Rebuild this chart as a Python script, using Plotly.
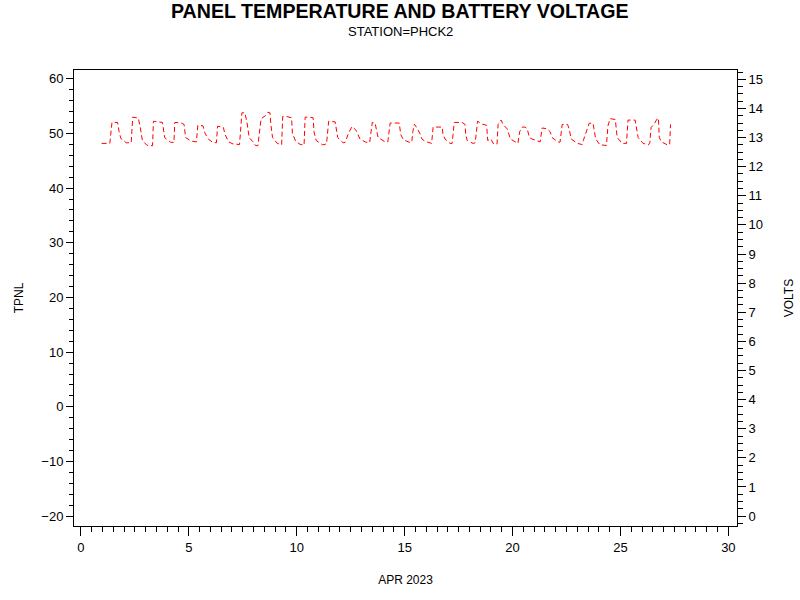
import plotly.graph_objects as go

# =========================
# DATA
# =========================

# day of APR 2023 and battery voltage
day = [
    0.96, 1.34, 1.44, 1.70, 1.77, 1.85, 2.10, 2.33,
    2.40, 2.66, 2.75, 2.85, 3.05, 3.32,
    3.36, 3.78, 3.88, 4.15, 4.31,
    4.35, 4.65, 4.78, 4.85, 5.10, 5.35,
    5.42, 5.66, 5.75, 5.90, 6.10, 6.28,
    6.33, 6.60, 6.68, 6.85, 7.05, 7.35,
    7.46, 7.60, 7.70, 7.80, 7.93, 8.10, 8.20,
    8.35, 8.55, 8.65, 8.76, 8.80, 8.88, 9.10, 9.30,
    9.35, 9.50, 9.76, 9.80, 9.95, 10.15, 10.34,
    10.39, 10.60, 10.76, 10.80, 10.90, 11.20, 11.38,
    11.48, 11.78, 11.90, 12.15, 12.25,
    12.40, 12.56, 12.75, 12.93, 13.20, 13.38,
    13.50, 13.63, 13.77, 14.10, 14.22,
    14.33, 14.75, 14.82, 14.95, 15.25, 15.33,
    15.38, 15.45, 15.58, 15.70, 15.80, 15.95, 16.25,
    16.32, 16.74, 16.78, 16.87, 17.10, 17.20,
    17.30, 17.66, 17.80, 17.83, 17.90, 18.17, 18.27,
    18.38, 18.60, 18.80, 18.85, 19.00, 19.10, 19.28,
    19.33, 19.47, 19.56, 19.75, 19.90, 20.25,
    20.33, 20.45, 20.58, 20.68, 20.78, 20.90, 21.20, 21.28,
    21.37, 21.60, 21.74, 21.83, 22.10, 22.20,
    22.30, 22.55, 22.62, 22.72, 23.00, 23.23,
    23.28, 23.38, 23.55, 23.73, 23.85, 24.05, 24.35,
    24.42, 24.52, 24.76, 24.85, 25.08, 25.28,
    25.35, 25.68, 25.82, 26.05, 26.30, 26.36,
    26.42, 26.55, 26.72, 26.76, 26.80, 26.90, 27.17, 27.28,
    27.32,
]

volts = [
    12.80, 12.80, 13.52, 13.52, 13.20, 12.97, 12.82, 12.82,
    13.70, 13.67, 13.35, 12.90, 12.74, 12.72,
    13.56, 13.52, 13.00, 12.84, 12.83,
    13.52, 13.50, 13.45, 13.00, 12.88, 12.85,
    13.42, 13.40, 13.15, 12.95, 12.84, 12.82,
    13.39, 13.35, 13.10, 12.85, 12.78, 12.76,
    13.85, 13.85, 13.50, 12.98, 12.90, 12.72, 12.72,
    13.65, 13.75, 13.87, 13.85, 13.45, 13.00, 12.80, 12.75,
    13.72, 13.73, 13.68, 13.15, 12.87, 12.77, 12.74,
    13.70, 13.70, 13.68, 13.20, 12.90, 12.75, 12.78,
    13.56, 13.54, 13.00, 12.82, 12.84,
    13.15, 13.38, 13.25, 12.95, 12.84, 12.83,
    13.52, 13.50, 13.00, 12.85, 12.85,
    13.50, 13.50, 13.10, 12.92, 12.83, 12.84,
    13.20, 13.46, 13.32, 13.15, 12.95, 12.87, 12.80,
    13.36, 13.36, 13.10, 12.95, 12.80, 12.80,
    13.52, 13.52, 13.45, 13.10, 12.90, 12.80, 12.82,
    13.56, 13.46, 13.42, 12.90, 12.95, 12.80, 12.77,
    13.45, 13.60, 13.45, 13.30, 12.95, 12.80,
    13.20, 13.36, 13.36, 13.30, 13.00, 12.95, 12.85, 12.85,
    13.33, 13.30, 13.20, 13.00, 12.85, 12.84,
    13.45, 13.45, 13.30, 12.95, 12.80, 12.76,
    12.90, 13.10, 13.49, 13.49, 12.95, 12.75, 12.73,
    13.40, 13.65, 13.62, 13.00, 12.80, 12.80,
    13.60, 13.60, 13.00, 12.80, 12.75, 12.82,
    13.35, 13.45, 13.67, 13.65, 13.00, 12.85, 12.75, 12.76,
    13.45,
]

# panel temperature: no values plotted
tpnl_day = []
tpnl = []

FONT = "Liberation Sans, Arial, sans-serif"
TITLE_FONT = dict(family=FONT, size=12, color="black")

fig = go.Figure()

# empty TPNL trace so the left axis is drawn
fig.add_trace(
    go.Scatter(
        x=tpnl_day,
        y=tpnl,
        mode="lines",
        line=dict(color="black", width=1),
        showlegend=False,
        hoverinfo="skip",
    )
)

# volts line, red dashed, on the right axis
fig.add_trace(
    go.Scatter(
        x=day,
        y=volts,
        yaxis="y2",
        mode="lines",
        line=dict(color="red", width=1, dash="5px,3px"),
        showlegend=False,
        hoverinfo="skip",
    )
)

# =========================
# LAYOUT
# =========================

fig.update_layout(
    width=800,
    height=600,
    plot_bgcolor="white",
    paper_bgcolor="white",
    font=dict(family=FONT, size=13, color="black"),
    margin=dict(l=74, r=63, t=70, b=74),
    showlegend=False,
    xaxis=dict(
        range=[-0.32, 30.4],
        dtick=5,
        tick0=0,
        ticks="outside",
        ticklen=9,
        tickcolor="black",
        showline=True,
        linecolor="black",
        linewidth=1,
        mirror=True,
        showgrid=False,
        zeroline=False,
        automargin=False,
        minor=dict(dtick=0.5, ticks="outside", ticklen=5, tickcolor="black", showgrid=False),
        title=dict(text="APR 2023", standoff=22, font=TITLE_FONT),
    ),
    yaxis=dict(
        range=[-21.8, 61.6],
        dtick=10,
        tick0=0,
        ticks="outside",
        ticklen=7,
        tickcolor="black",
        showline=True,
        linecolor="black",
        linewidth=1,
        showgrid=False,
        zeroline=False,
        automargin=False,
        minor=dict(dtick=2, ticks="outside", ticklen=4, tickcolor="black", showgrid=False),
        title=dict(text="TPNL", standoff=15, font=TITLE_FONT),
    ),
    yaxis2=dict(
        range=[-0.34, 15.32],
        overlaying="y",
        side="right",
        dtick=1,
        tick0=0,
        ticks="outside",
        ticklen=8,
        tickcolor="black",
        showline=True,
        linecolor="black",
        linewidth=1,
        showgrid=False,
        zeroline=False,
        automargin=False,
        minor=dict(dtick=0.25, ticks="outside", ticklen=5, tickcolor="black", showgrid=False),
        title=dict(text="VOLTS", standoff=22, font=TITLE_FONT),
    ),
    annotations=[
        dict(
            text="<b>PANEL TEMPERATURE AND BATTERY VOLTAGE</b>",
            xref="paper", yref="paper",
            x=0.492, y=1.129,
            xanchor="center", yanchor="middle",
            showarrow=False,
            font=dict(family=FONT, size=19.6, color="black"),
        ),
        dict(
            text="STATION=PHCK2",
            xref="paper", yref="paper",
            x=0.492, y=1.085,
            xanchor="center", yanchor="middle",
            showarrow=False,
            font=dict(family=FONT, size=13, color="black"),
        ),
    ],
)

# drop the page's default body margin so the figure sits at the corner
fig.write_html(
    "out.html",
    config={"displayModeBar": False},
    post_script="document.body.style.margin='0px';",
)
